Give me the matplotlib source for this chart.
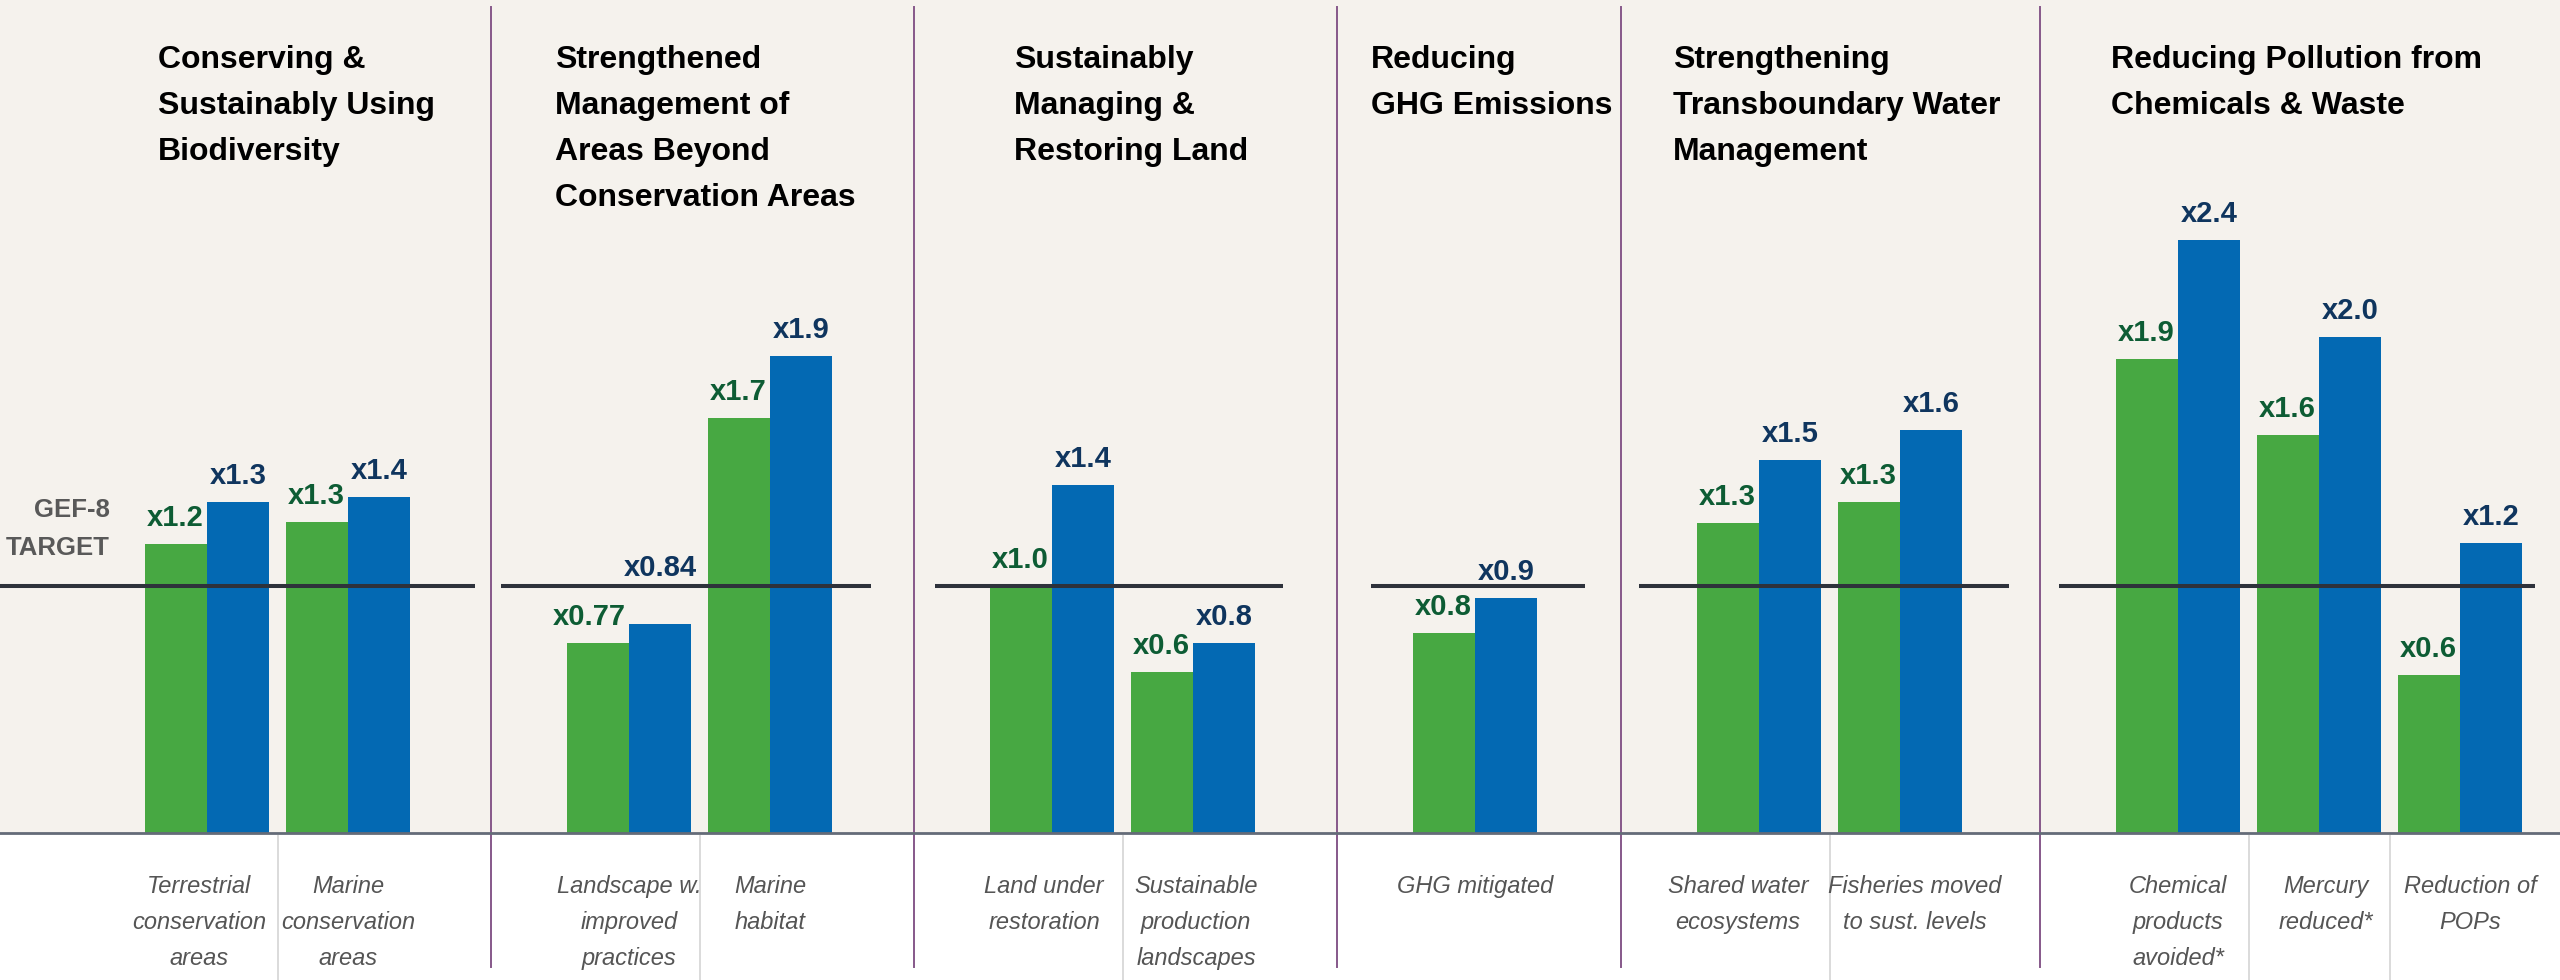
import matplotlib
matplotlib.use('Agg')
import matplotlib.pyplot as plt

plt.rcParams['font.family'] = ['Liberation Sans', 'DejaVu Sans']

# section titles and how many bar pairs each section holds
section_titles = ['Conserving &\nSustainably Using\nBiodiversity',
                  'Strengthened\nManagement of\nAreas Beyond\nConservation Areas',
                  'Sustainably\nManaging &\nRestoring Land',
                  'Reducing\nGHG Emissions',
                  'Strengthening\nTransboundary Water\nManagement',
                  'Reducing Pollution from\nChemicals & Waste']
pairs_per_section = [2, 2, 2, 1, 2, 3]

categories = ['Terrestrial\nconservation\nareas', 'Marine\nconservation\nareas',
              'Landscape w.\nimproved\npractices', 'Marine\nhabitat',
              'Land under\nrestoration', 'Sustainable\nproduction\nlandscapes',
              'GHG mitigated',
              'Shared water\necosystems', 'Fisheries moved\nto sust. levels',
              'Chemical\nproducts\navoided*', 'Mercury\nreduced*', 'Reduction of\nPOPs']

# bar heights relative to the GEF-8 target (1.0)
green_vals = [1.17, 1.26, 0.77, 1.68, 1.00, 0.65, 0.81, 1.255, 1.34, 1.92, 1.61, 0.64]
blue_vals = [1.34, 1.36, 0.845, 1.93, 1.41, 0.77, 0.95, 1.51, 1.63, 2.40, 2.01, 1.175]
green_labels = ['x1.2', 'x1.3', 'x0.77', 'x1.7', 'x1.0', 'x0.6', 'x0.8',
                'x1.3', 'x1.3', 'x1.9', 'x1.6', 'x0.6']
blue_labels = ['x1.3', 'x1.4', 'x0.84', 'x1.9', 'x1.4', 'x0.8', 'x0.9',
               'x1.5', 'x1.6', 'x2.4', 'x2.0', 'x1.2']

target = 1.0

# layout (pixels on a 2560 x 980 canvas)
W, H = 2560, 980
base_px = 833          # baseline, from top
unit_px = 247          # pixels per 1.0
section_left = [69, 491, 914, 1337, 1621, 2040]
title_x = [158, 555, 1014, 1371, 1673, 2111]
target_span = [(0, 475), (501, 871), (935, 1283), (1371, 1585), (1639, 2009), (2059, 2535)]
bar_w = 62
pair_offset = 76
pair_step = 141
# small horizontal nudges of the captions under each pair
cat_dx = [-8, 0, 0, 0, -8, 3, 0, -21, 15, 0, 7, 10]

BG = '#F5F2ED'
GREEN = '#47A842'
BLUE = '#0369B3'
GREEN_TXT = '#0D5C34'
BLUE_TXT = '#0F355E'
DIVIDER = '#86588A'


def py(px_from_top):
    # convert a pixel row (from top) to data units
    return (base_px - px_from_top) / unit_px


fig = plt.figure(figsize=(W / 100, H / 100), dpi=100)
fig.patch.set_facecolor('white')
ax = fig.add_axes([0, (H - base_px) / H, 1, base_px / H])
ax.set_xlim(0, W)
ax.set_ylim(0, base_px / unit_px)
ax.axis('off')
ax.add_patch(plt.Rectangle((0, 0), W, base_px / unit_px, color=BG, zorder=0))

# bar positions
green_x = []
for s, n in enumerate(pairs_per_section):
    for j in range(n):
        green_x.append(section_left[s] + pair_offset + pair_step * j)
blue_x = [x + bar_w for x in green_x]

ax.bar(green_x, green_vals, width=bar_w, align='edge', color=GREEN, zorder=2)
ax.bar(blue_x, blue_vals, width=bar_w, align='edge', color=BLUE, zorder=2)

# target lines
for x0, x1 in target_span:
    ax.plot([x0, x1], [target, target], color='#2E323B', lw=2.9,
            solid_capstyle='butt', zorder=3)

# baseline
ax.plot([0, W], [0, 0], color='#646B78', lw=2.0, zorder=4, clip_on=False)

# section dividers
for x in section_left[1:]:
    ax.plot([x, x], [py(967), py(7)], color=DIVIDER, lw=1.4,
            zorder=1, clip_on=False)

# light separators between pairs in the label area
k = 0
for s, n in enumerate(pairs_per_section):
    for j in range(n - 1):
        xs = green_x[k + j] + 2 * bar_w + (pair_step - 2 * bar_w) / 2
        ax.plot([xs, xs], [py(836), py(980)], color='#DADADA', lw=1.4,
                zorder=1, clip_on=False)
    k += n

# value labels
gap = 18 / unit_px
txt_h = 22 / unit_px
for i in range(len(green_vals)):
    gy = green_vals[i] + gap
    if gy < target < gy + txt_h:
        gy = target + 0.04
    ax.text(green_x[i] + bar_w - 3, gy, green_labels[i], ha='right',
            va='baseline', fontsize=21, fontweight='bold', color=GREEN_TXT,
            zorder=5)
    by = blue_vals[i] + gap
    if by < target < by + txt_h:
        by = target + 0.04
    ax.text(blue_x[i] + bar_w / 2, by, blue_labels[i], ha='center',
            va='baseline', fontsize=21, fontweight='bold', color=BLUE_TXT,
            zorder=5)

# section titles
for s, t in enumerate(section_titles):
    for j, line in enumerate(t.split('\n')):
        ax.text(title_x[s], py(68 + 46 * j), line, ha='left', va='baseline',
                fontsize=23, fontweight='bold', color='black')

# target label
ax.text(110, py(517), 'GEF-8', ha='right', va='baseline', fontsize=18.5,
        fontweight='bold', color='#595959')
ax.text(110, py(555), 'TARGET', ha='right', va='baseline', fontsize=18.5,
        fontweight='bold', color='#595959')

# category labels
for i, c in enumerate(categories):
    cx = green_x[i] + bar_w + cat_dx[i]
    for j, line in enumerate(c.split('\n')):
        ax.text(cx, py(893 + 36 * j), line, ha='center', va='baseline',
                fontsize=17, style='italic', color='#555555')

fig.savefig('out.png', dpi=100, facecolor=fig.get_facecolor())
